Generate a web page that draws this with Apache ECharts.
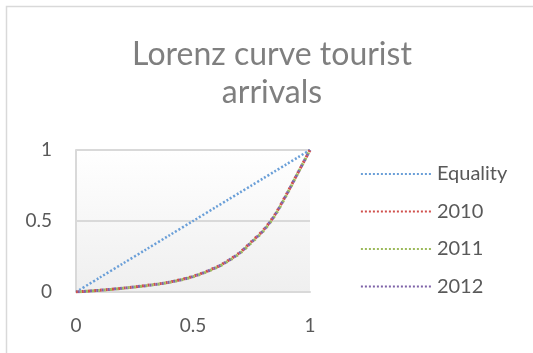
<!DOCTYPE html>
<html><head><meta charset="utf-8">
<script src="https://cdn.jsdelivr.net/npm/echarts@6/dist/echarts.min.js"></script>
<style>html,body{margin:0;padding:0;background:#fff}#c{width:533px;height:353px}</style>
</head><body><div id="c"></div>
<script>
var titleText = 'Lorenz curve tourist\narrivals';
var xShare = [0, 0.1, 0.2, 0.3, 0.4, 0.5, 0.6, 0.65, 0.7, 0.75, 0.8, 0.85, 0.9, 0.95, 1];
var equality = [0, 0.1, 0.2, 0.3, 0.4, 0.5, 0.6, 0.65, 0.7, 0.75, 0.8, 0.85, 0.9, 0.95, 1];
var y2010 = [0, 0.012, 0.027, 0.046, 0.07, 0.11, 0.175, 0.222, 0.278, 0.355, 0.435, 0.545, 0.69, 0.845, 1];
var y2011 = [0, 0.011, 0.026, 0.044, 0.068, 0.107, 0.171, 0.217, 0.272, 0.348, 0.428, 0.538, 0.685, 0.842, 1];
var y2012 = [0, 0.012, 0.027, 0.045, 0.069, 0.109, 0.173, 0.22, 0.276, 0.352, 0.432, 0.542, 0.688, 0.844, 1];
var seriesNames = ['Equality', '2010', '2011', '2012'];
var colors = ['#6a9fd8', '#d0504c', '#9cba5a', '#7e63a8'];

function pairs(ys){ return xShare.map(function(x,i){ return [x, ys[i]]; }); }
var allY = [equality, y2010, y2011, y2012];
var font = 'Lato, "Open Sans", sans-serif';

var chart = echarts.init(document.getElementById('c'), null, {renderer:'canvas'});
chart.setOption({
  animation: false,
  color: colors,
  title: {
    text: titleText, left: 267, top: 31, textAlign: 'center',
    textStyle: {fontFamily: font, fontSize: 32, fontWeight: 'normal', color: '#7f7f7f', lineHeight: 38}
  },
  graphic: [{
    type: 'rect', left: 4, top: 4, silent: true,
    shape: {width: 600, height: 400},
    style: {fill: 'none', stroke: '#d9d9d9', lineWidth: 1.5}
  }],
  legend: {
    orient: 'vertical', left: 355, top: 159, itemGap: 17.5, itemWidth: 70, itemHeight: 19,
    data: seriesNames,
    itemStyle: {opacity: 0},
    lineStyle: {type: [2, 2], width: 1.8, dashOffset: 0},
    textStyle: {fontFamily: font, fontSize: 20, color: '#595959', padding: [0,0,0,1]}
  },
  grid: {left: 76, top: 150, width: 234, height: 142,
    show: true, borderWidth: 0,
    backgroundColor: new echarts.graphic.LinearGradient(0,0,0,1,[{offset:0,color:'#ffffff'},{offset:1,color:'#efefef'}])},
  xAxis: {
    type: 'value', min: 0, max: 1, interval: 0.5,
    axisLine: {show: true, lineStyle: {color: '#d9d9d9', width: 2}},
    axisTick: {show: false},
    splitLine: {show: false},
    axisLabel: {fontFamily: font, fontSize: 19, color: '#595959', margin: 24}
  },
  yAxis: {
    type: 'value', min: 0, max: 1, interval: 0.5,
    axisLine: {show: true, lineStyle: {color: '#d9d9d9', width: 2}},
    axisTick: {show: false},
    splitLine: {show: true, lineStyle: {color: '#d9d9d9', width: 2}},
    axisLabel: {fontFamily: font, fontSize: 19, color: '#595959', margin: 24}
  },
  series: seriesNames.map(function(n, i){
    return {
      name: n, type: 'line', data: pairs(allY[i]), smooth: 0.3,
      symbol: 'none', showSymbol: false,
      lineStyle: i === 0 ? {type: [2, 2], width: 2.5, color: colors[i], cap: 'butt'}
                         : {type: [2, 4], dashOffset: (i - 1) * 2, width: 3, color: colors[i], cap: 'butt'},
      itemStyle: {color: colors[i]}
    };
  })
});
</script></body></html>
